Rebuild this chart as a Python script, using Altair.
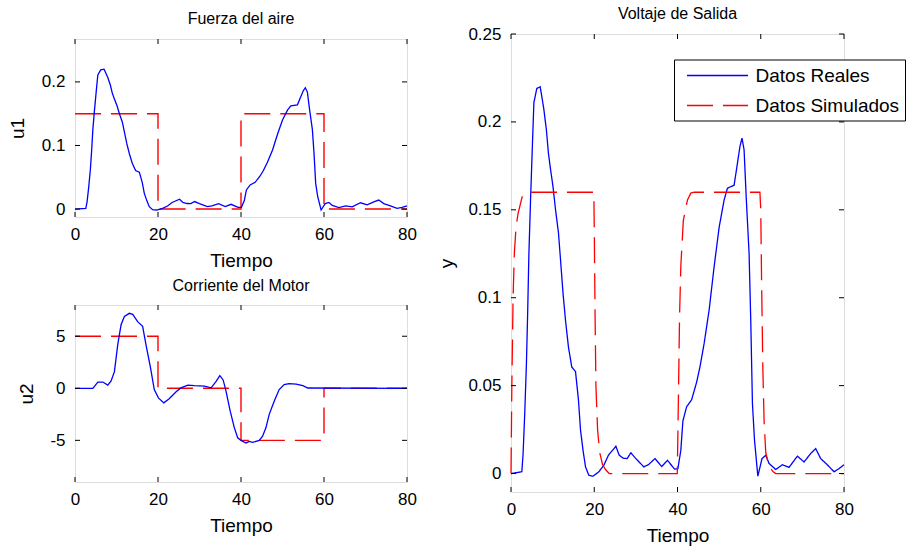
import altair as alt
import pandas as pd

# ---------------- data ----------------
tiempo_ticks = [0, 20, 40, 60, 80]

# measured output (also the measured air force signal, identical shape)
real_t = [0, 2.6, 2.9, 3.3, 3.7, 4.0, 4.3, 4.7, 5.1, 5.5, 6.2, 7.0, 7.4, 7.9, 8.5, 9.0,
          9.5, 10.1, 10.7, 11.4, 11.9, 12.5, 13.1, 13.8, 14.6, 15.5, 16.2, 16.7, 17.3,
          17.9, 18.7, 19.7, 21.1, 22.3, 23.4, 25.2, 26.0, 27.0, 27.9, 28.8, 30.0, 31.9,
          33.0, 34.6, 36.2, 37.6, 39.3, 40.1, 40.8, 41.3, 42.2, 43.4, 44.6, 45.4, 46.4,
          47.6, 48.8, 50.0, 51.2, 52.0, 53.6, 54.4, 55.0, 55.5, 56.0, 56.5, 57.2, 57.6,
          58.0, 58.5, 59.3, 60.3, 61.2, 62.0, 63.6, 65.2, 66.8, 68.8, 70.4, 72.0, 73.2,
          74.4, 76.0, 77.6, 78.8, 80.0]
real_y = [0, 0.001, 0.011, 0.034, 0.062, 0.091, 0.125, 0.156, 0.184, 0.211, 0.219, 0.220,
          0.2145, 0.207, 0.1955, 0.182, 0.173, 0.163, 0.150, 0.137, 0.1215, 0.1025, 0.087,
          0.072, 0.0606, 0.058, 0.042, 0.0247, 0.0133, 0.0038, -0.001, -0.0015, 0.001,
          0.0047, 0.0104, 0.0155, 0.0104, 0.0087, 0.0085, 0.0118, 0.0085, 0.0038, 0.005,
          0.0085, 0.004, 0.0075, 0.0025, 0.0028, 0.0133, 0.030, 0.038, 0.042, 0.052,
          0.0607, 0.074, 0.093, 0.1177, 0.140, 0.1556, 0.1623, 0.164, 0.1765, 0.186,
          0.1908, 0.184, 0.1575, 0.125, 0.087, 0.040, 0.019, -0.0015, 0.0085, 0.0104,
          0.0057, 0.0023, 0.005, 0.0035, 0.0099, 0.0066, 0.0114, 0.0142, 0.0085, 0.005,
          0.001, 0.0028, 0.005]

# simulated output
sim_t = [0, 0.2, 0.5, 0.8, 1.2, 1.7, 2.7, 3.5, 4.3, 19.9, 20.0, 20.2, 20.4, 20.8, 21.3,
         22.0, 22.8, 23.6, 39.95, 40.2, 40.5, 40.8, 41.4, 42.4, 43.2, 44.0, 59.8, 60.0,
         60.2, 60.5, 60.8, 61.2, 62.0, 63.0, 63.6, 80]
sim_y = [0, 0.05, 0.10, 0.125, 0.14, 0.148, 0.1575, 0.1595, 0.16, 0.16, 0.14, 0.09, 0.05,
         0.025, 0.012, 0.005, 0.002, 0, 0, 0.04, 0.09, 0.118, 0.144, 0.1556, 0.1595, 0.16,
         0.16, 0.15, 0.11, 0.06, 0.03, 0.012, 0.004, 0.001, 0, 0]

# input 1 (air force): reference step
u1_step_t = [0, 20, 40, 60, 80]
u1_step = [0.15, 0, 0.15, 0, 0]
u1_ticks = [0, 0.1, 0.2]

# input 2 (motor current)
u2_t = [0, 4.3, 5.5, 6.7, 7.9, 8.7, 9.5, 10.3, 11.1, 11.9, 13.1, 13.9, 15.1, 16.3, 17.1,
        18.2, 19.1, 20.1, 21.4, 22.7, 24.3, 25.5, 27.2, 28.8, 31.2, 32.8, 34.0, 34.9, 35.7,
        36.4, 37.4, 38.4, 39.2, 40.0, 41.2, 42.0, 42.8, 44.4, 45.2, 46.0, 46.8, 48.0, 49.2,
        50.4, 51.6, 53.3, 54.9, 56.1, 80]
u2_y = [0, 0, 0.6, 0.6, 0.3, 0.7, 1.6, 4.2, 6.1, 6.9, 7.2, 7.1, 6.4, 5.95, 4.2, 1.96, -0.12,
        -0.92, -1.4, -1.0, -0.35, 0.04, 0.3, 0.25, 0.2, 0.05, 0.67, 1.22, 0.8, -0.3, -2.2,
        -3.8, -4.75, -5.0, -5.25, -5.1, -5.2, -5.0, -4.6, -3.8, -2.5, -1.25, -0.12, 0.35,
        0.45, 0.4, 0.25, 0.03, 0]
u2_step_t = [0, 20, 40, 60, 80]
u2_step = [5, 0, -5, 0, 0]
u2_ticks = [-5, 0, 5]

y_ticks = [0, 0.05, 0.1, 0.15, 0.2, 0.25]
series = ["Datos Reales", "Datos Simulados"]

# ---------------- style ----------------
FONT = "Liberation Sans"
BLUE = "#0000ff"
RED = "#ff0000"
DASH = [26, 10]
TICK = 5
LBL = "datum.value < 0 ? '-' + format(-datum.value, '~g') : format(datum.value, '~g')"
TITLE_FS = 16
LABEL_FS = 17


def x_axis():
    return alt.Axis(values=tiempo_ticks, title="Tiempo", ticks=False, tickSize=0, domain=False,
                    grid=False, labelPadding=9, titlePadding=9, labelExpr=LBL, labelFlush=False,
                    labelFontSize=LABEL_FS, titleFontSize=19, titleFontWeight="normal",
                    labelColor="black", titleColor="black", labelFont=FONT, titleFont=FONT)


def y_axis(title, vals, tpad):
    return alt.Axis(values=vals, title=title, ticks=False, tickSize=0, domain=False,
                    grid=False, labelPadding=10, titlePadding=tpad, labelExpr=LBL,
                    labelFlush=False,
                    labelFontSize=LABEL_FS, titleFontSize=19, titleFontWeight="normal",
                    labelColor="black", titleColor="black", labelFont=FONT, titleFont=FONT)


def inner_ticks(xvals, yvals, xdom, ydom, w, h):
    dx = pd.DataFrame({"t": xvals})
    dy = pd.DataFrame({"v": yvals})
    xs = alt.Scale(domain=xdom, nice=False, zero=False)
    ys = alt.Scale(domain=ydom, nice=False, zero=False)
    base_x = alt.Chart(dx).mark_rule(color="black", strokeWidth=1)
    base_y = alt.Chart(dy).mark_rule(color="black", strokeWidth=1)
    return [
        base_x.encode(x=alt.X("t:Q", scale=xs), y=alt.value(h), y2=alt.value(h - TICK)),
        base_x.encode(x=alt.X("t:Q", scale=xs), y=alt.value(0), y2=alt.value(TICK)),
        base_y.encode(y=alt.Y("v:Q", scale=ys), x=alt.value(0), x2=alt.value(TICK)),
        base_y.encode(y=alt.Y("v:Q", scale=ys), x=alt.value(w), x2=alt.value(w - TICK)),
    ]


def spacer(ytop):
    # invisible mark that fixes the top of a panel's bounding box
    return alt.Chart(pd.DataFrame({"a": [0]})).mark_rule(opacity=0, strokeOpacity=0).encode(
        x=alt.value(0), x2=alt.value(1), y=alt.value(ytop), y2=alt.value(ytop))


def spacer_chart():
    # tiny invisible view used as a common origin for both columns
    return alt.Chart(pd.DataFrame({"a": [0]})).mark_rule(opacity=0, strokeOpacity=0).encode(
        x=alt.value(0), x2=alt.value(1), y=alt.value(0), y2=alt.value(1)
    ).properties(width=1, height=1, view=alt.ViewBackground(stroke="transparent"))


def title(text, off):
    return alt.TitleParams(text, fontSize=TITLE_FS, fontWeight="normal", font=FONT,
                           color="black", offset=off, frame="group", baseline="alphabetic",
                           anchor="middle")


# ---- top-left: Fuerza del aire ----
W1, H1 = 332, 178
xdom = [0, 80]
u1dom = [-0.0125, 0.2675]
xs = alt.Scale(domain=xdom, nice=False, zero=False)
u1s = alt.Scale(domain=u1dom, nice=False, zero=False)
df_u1 = pd.DataFrame({"t": real_t, "v": real_y})
df_u1s = pd.DataFrame({"t": u1_step_t, "v": u1_step})
top = alt.layer(
    alt.Chart(df_u1s).mark_line(color=RED, strokeDash=DASH, strokeWidth=1.4, interpolate="step-after").encode(
        x=alt.X("t:Q", scale=xs, axis=x_axis()),
        y=alt.Y("v:Q", scale=u1s, axis=y_axis("u1", u1_ticks, 14))),
    alt.Chart(df_u1).mark_line(color=BLUE, strokeWidth=1.3).encode(
        x=alt.X("t:Q", scale=xs), y=alt.Y("v:Q", scale=u1s)),
    *inner_ticks(tiempo_ticks, u1_ticks, xdom, u1dom, W1, H1),
    spacer(-34),
).properties(width=W1, height=H1, title=title("Fuerza del aire", -34.5))

# ---- bottom-left: Corriente del Motor ----
W2, H2 = 332, 177
u2dom = [-9, 8]
u2s = alt.Scale(domain=u2dom, nice=False, zero=False)
df_u2 = pd.DataFrame({"t": u2_t, "v": u2_y})
df_u2s = pd.DataFrame({"t": u2_step_t, "v": u2_step})
bottom = alt.layer(
    alt.Chart(df_u2s).mark_line(color=RED, strokeDash=DASH, strokeWidth=1.4, interpolate="step-after").encode(
        x=alt.X("t:Q", scale=xs, axis=x_axis()),
        y=alt.Y("v:Q", scale=u2s, axis=y_axis("u2", u2_ticks, 13))),
    alt.Chart(df_u2).mark_line(color=BLUE, strokeWidth=1.3).encode(
        x=alt.X("t:Q", scale=xs), y=alt.Y("v:Q", scale=u2s)),
    *inner_ticks(tiempo_ticks, u2_ticks, xdom, u2dom, W2, H2),
).properties(width=W2, height=H2, title=title("Corriente del Motor", -2.2))

# ---- right: Voltaje de Salida ----
W3, H3 = 333, 458
ydom = [-0.0105, 0.25]
ys = alt.Scale(domain=ydom, nice=False, zero=False)
df_y = pd.concat([
    pd.DataFrame({"t": real_t, "v": real_y, "serie": series[0]}),
    pd.DataFrame({"t": sim_t, "v": sim_y, "serie": series[1]}),
], ignore_index=True)

legend = alt.Legend(title=None, orient="none", legendX=163, legendY=25.5, fillColor="white",
                    strokeColor="black", padding=5, labelFontSize=19, labelFont=FONT,
                    labelColor="black", symbolType="M-0.3,0H5.8", symbolSize=400,
                    symbolStrokeWidth=1.3, labelOffset=54.5, rowPadding=9)

right = alt.layer(
    alt.Chart(df_y).mark_line(strokeWidth=1.3).encode(
        x=alt.X("t:Q", scale=xs, axis=x_axis()),
        y=alt.Y("v:Q", scale=ys, axis=y_axis("y", y_ticks, 11)),
        color=alt.Color("serie:N", scale=alt.Scale(domain=series, range=[BLUE, RED]), legend=legend),
        strokeDash=alt.StrokeDash("serie:N", scale=alt.Scale(domain=series, range=[[1, 0], DASH]), legend=legend),
        order=alt.Order("serie:N", sort="descending"),
    ),
    *inner_ticks(tiempo_ticks, y_ticks, xdom, ydom, W3, H3),
    spacer(-29),
).properties(width=W3, height=H3, title=title("Voltaje de Salida", -29.8))

left_col = alt.vconcat(spacer_chart(), alt.vconcat(top, bottom, spacing=6), spacing=0)
right_col = alt.vconcat(spacer_chart(), right, spacing=0).resolve_scale(
    color="independent", strokeDash="independent")
chart = alt.hconcat(left_col, right_col, spacing=20).resolve_scale(
    color="independent", strokeDash="independent"
).properties(
    padding={"left": 7, "top": 1, "right": 0, "bottom": 0}
).configure_view(stroke="black", strokeWidth=1.2).configure(background="white")

chart.save("out.html", embed_options={"renderer": "svg", "actions": False})
